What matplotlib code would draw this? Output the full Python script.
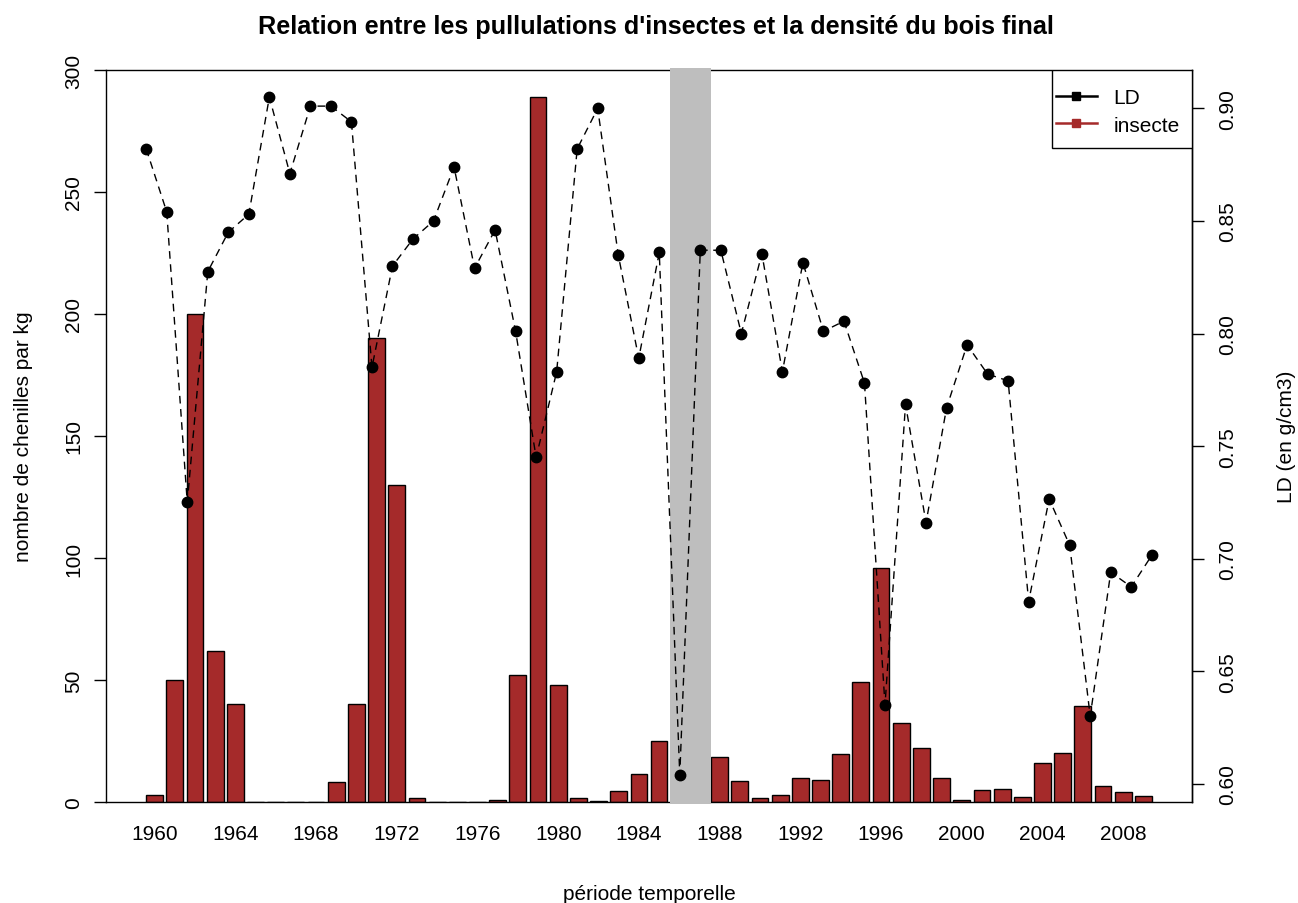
import numpy as np
import matplotlib
matplotlib.use("Agg")
import matplotlib.pyplot as plt
from matplotlib.lines import Line2D
from matplotlib.patches import Rectangle

plt.rcParams['font.family'] = ['Liberation Sans', 'DejaVu Sans']

# yearly series
years = list(range(1960, 2010))
insecte = [3, 50, 200, 62, 40, 0, 0, 0, 0, 8,
           40, 190, 130, 1.5, 0, 0, 0, 1, 52, 289,
           48, 1.5, 0.5, 4.5, 11.5, 25, 0, 0, 18.5, 8.5,
           1.5, 3, 10, 9, 19.5, 49, 96, 32.5, 22, 10,
           1, 5, 5.5, 2, 16, 20, 39.5, 6.5, 4, 2.5]
LD = [0.882, 0.854, 0.725, 0.8275, 0.845, 0.853, 0.905, 0.871, 0.901, 0.901,
      0.894, 0.785, 0.830, 0.842, 0.850, 0.874, 0.829, 0.846, 0.801, 0.745,
      0.783, 0.882, 0.900, 0.835, 0.789, 0.836, 0.604, 0.837, 0.837, 0.800,
      0.8355, 0.783, 0.8315, 0.801, 0.8055, 0.778, 0.635, 0.7685, 0.716, 0.767,
      0.795, 0.782, 0.779, 0.681, 0.7265, 0.706, 0.630, 0.694, 0.6875, 0.7015]
gap_years = (1985.5, 1987.5)

brown = '#A52A2A'
fs = 15

fig = plt.figure(figsize=(12.98, 9.04), dpi=100)
rect = [106/1298, 101/904, 1086/1298, 732/904]

# bar chart, R barplot geometry (width 1, space 0.2)
ax = fig.add_axes(rect)
n = len(insecte)
mids = 0.7 + 1.2 * np.arange(n)
ax.bar(mids, insecte, width=1.0, color=brown, edgecolor='black', linewidth=1.0)
span = (0.2, 1.2 * n)
pad = 0.04 * (span[1] - span[0])
ax.set_xlim(span[0] - pad, span[1] + pad)
ax.set_ylim(0, 300)
ax.set_yticks(np.arange(0, 301, 50))
ax.set_xticks(mids[::4])
ax.set_xticklabels([str(y) for y in years[::4]])
ax.tick_params(axis='x', length=0, pad=16, labelsize=fs)
ax.tick_params(axis='y', length=8.6, width=1, pad=8, labelsize=fs, labelrotation=90)
for lab in ax.get_yticklabels():
    lab.set_va('center')
for s in ax.spines.values():
    s.set_linewidth(1.0)
ax.set_ylabel('nombre de chenilles par kg', fontsize=fs, labelpad=22)

# LD series on its own scales
ax2 = fig.add_axes(rect, facecolor='none')
ax2.axvspan(gap_years[0], gap_years[1], ymin=-0.003, ymax=1.003, color='#BEBEBE',
            lw=0, clip_on=False, zorder=1)
ax2.plot(years, LD, color='black', lw=1.0, linestyle=(0, (5.5, 4)), zorder=2)
ax2.plot(years, LD, 'o', color='black', markersize=7.5, zorder=3)
xr = (min(years), max(years))
xp = 0.04 * (xr[1] - xr[0])
ax2.set_xlim(xr[0] - xp, xr[1] + xp)
yr = (min(LD), max(LD))
yp = 0.04 * (yr[1] - yr[0])
ax2.set_ylim(yr[0] - yp, yr[1] + yp)
ax2.set_xticks([])
ax2.yaxis.tick_right()
ax2.yaxis.set_label_position('right')
ax2.set_yticks(np.arange(0.60, 0.901, 0.05))
ax2.set_yticklabels(['%.2f' % v for v in np.arange(0.60, 0.901, 0.05)])
ax2.tick_params(axis='y', length=8.6, width=1, pad=10, labelsize=fs, labelrotation=90)
for lab in ax2.get_yticklabels():
    lab.set_va('center')
for k in ['left', 'top', 'bottom']:
    ax2.spines[k].set_visible(False)
ax2.spines['right'].set_linewidth(1.0)
ax2.set_ylabel('LD (en g/cm3)', fontsize=fs, labelpad=29)

# legend: white box in the top-right corner, entries placed inside it
box = Rectangle((0.871, 0.8934), 0.129, 0.1066, transform=ax2.transAxes,
                facecolor='white', edgecolor='black', lw=1.0, zorder=4)
ax2.add_patch(box)
handles = [Line2D([], [], color='black', lw=1.8, marker='s', markersize=6),
           Line2D([], [], color=brown, lw=1.8, marker='s', markersize=6)]
leg = ax2.legend(handles, ['LD', 'insecte'], loc='upper left',
                 bbox_to_anchor=(0.8745, 0.975), borderaxespad=0, borderpad=0,
                 fontsize=fs, frameon=False, handlelength=1.97,
                 handletextpad=0.8, labelspacing=0.4)
leg.set_zorder(5)

fig.text(656/1298, 1 - 27/904,
         "Relation entre les pullulations d'insectes et la densité du bois final",
         ha='center', va='center', fontsize=18.2, fontweight='bold')
fig.text(rect[0] + rect[2] / 2, 9/904, 'période temporelle',
         ha='center', va='center', fontsize=fs)

fig.savefig('out.png', dpi=100)
